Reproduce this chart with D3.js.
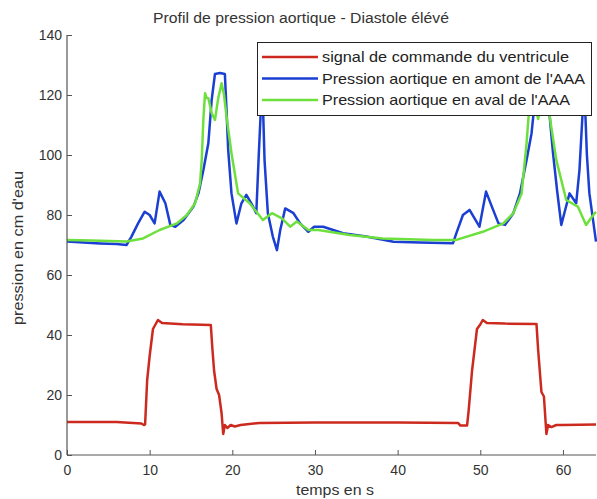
<!DOCTYPE html>
<html><head><meta charset="utf-8">
<script src="https://cdn.jsdelivr.net/npm/d3@7"></script>
<style>body{margin:0;background:#fff;} svg{display:block;font-family:"Liberation Sans",Arial,sans-serif;}</style>
</head><body>
<svg id="c" width="597" height="499"></svg>
<script>
const title = "Profil de pression aortique - Diastole élévé";
const xLabel = "temps en s";
const yLabel = "pression en cm d'eau";
const seriesNames = ["signal de commande du ventricule","Pression aortique en amont de l'AAA","Pression aortique en aval de l'AAA"];
const seriesColors = ["#cc2a1e","#1a3fd2","#6ee03e"];
const xTicks = [0,10,20,30,40,50,60];
const yTicks = [0,20,40,60,80,100,120,140];

const redT = [0,3,6,9,9.3,9.45,9.7,10.0,10.4,11.0,11.5,14,17.4,17.6,17.8,18.1,18.4,18.7,18.9,19.1,19.4,19.8,20.3,21,23.3,30,40,47.3,47.6,48.4,48.6,49.0,49.6,50.0,50.3,50.8,53,56.8,57.0,57.4,57.7,58.0,58.2,58.6,59.2,60,64];
const redV = [11,11,11,10.5,10,10.2,25,33,42,45,44,43.6,43.3,35,28,22,20,14,7,10,9,10,9.5,10,10.7,10.8,10.8,10.7,9.8,9.8,15,28,42,43.5,45,44,43.8,43.7,35,21,19.5,7,10,9.3,10,10,10.2];

const blueT = [0,2,4,6,7.2,7.8,8.6,9.4,10,10.6,11.2,11.9,12.5,13.1,14.1,15.3,15.9,16.5,17.1,17.5,17.9,18.5,19.1,19.3,19.5,19.9,20.5,21.1,21.7,22.3,22.9,23.2,23.5,23.65,23.9,24.3,24.9,25.4,25.8,26.4,27.4,28.2,29.2,29.9,31,33.4,36.2,39.5,42.7,46.7,47.1,47.9,48.7,49.9,50.7,51.4,52.2,53,54,54.8,55.6,56.2,56.6,57.0,57.6,58.2,58.4,58.8,59.3,59.8,60.3,60.8,61.6,62.0,62.4,62.6,62.9,63.2,64];
const blueV = [71.2,70.8,70.5,70.3,70,72.8,77.2,81.1,80,77.2,87.8,83.9,76.7,76.1,78.3,82.8,87.2,95,103.9,118.3,127,127.3,127,115,101.7,87.2,77.2,83.9,86.7,83.9,80.6,100,118,122,98.3,80.6,72.8,68.3,75,82.2,80.6,77.2,74.4,76.1,76.1,73.9,72.8,71.1,70.8,70.6,73.9,80,81.7,76.1,87.8,82.8,77.2,76.7,80.6,87.2,98.3,107.2,118,127,127.3,120,112.8,100.6,88,76.7,82,87.2,83.9,95,115,122,100,87.2,71.1];

const greenT = [0,3,7.2,9.2,11.2,13.3,14.5,15.5,16.1,16.3,16.5,16.7,16.9,17.1,17.5,17.9,18.3,18.7,19.0,19.3,19.9,20.7,22.1,23.7,24.8,26,27,27.8,29.2,30.4,34.2,38.2,44.3,47.1,50.3,52.8,54,55,55.6,55.9,56.1,56.5,57,57.4,57.8,58.2,58.4,59.2,60.4,61.8,62.8,63.4,64];
const greenV = [71.7,71.5,71.2,72.2,75,77.2,80,83.9,90.6,98.3,112,120.6,119,118.9,114,111.7,119,123.9,120,112.8,100.6,87.2,83.9,78.3,80.6,78.9,76.1,77.8,75,75,73.3,72.2,71.7,71.7,74.4,77.2,80.6,87.2,103.9,115,120,118,112,118,121,116,112.8,98.3,85,82.8,76.7,79,81.1];

const svg = d3.select("#c");
const L = 67, R = 596, T = 35, B = 455;
const x = d3.scaleLinear().domain([0,64]).range([L,R]);
const y = d3.scaleLinear().domain([0,140]).range([B,T]);

svg.append("defs").append("clipPath").attr("id","clip")
  .append("rect").attr("x",L).attr("y",T-2).attr("width",R-L+2).attr("height",B-T+2);

const line = d3.line().x(d=>x(d[0])).y(d=>y(d[1]));
const data = [
  d3.zip(redT, redV),
  d3.zip(blueT, blueV),
  d3.zip(greenT, greenV)
];
const g = svg.append("g").attr("clip-path","url(#clip)");
data.forEach((d,i)=>{
  g.append("path").datum(d).attr("d",line)
    .attr("fill","none").attr("stroke",seriesColors[i])
    .attr("stroke-width",2.5).attr("stroke-linejoin","round");
});

// axes
const axCol = "#555";
const xAxis = svg.append("g").attr("transform",`translate(0,${B})`)
  .call(d3.axisBottom(x).tickValues(xTicks).tickSize(-5).tickPadding(10).tickFormat(d3.format("d")));
const yAxis = svg.append("g").attr("transform",`translate(${L},0)`)
  .call(d3.axisLeft(y).tickValues(yTicks).tickSize(-5).tickPadding(5).tickFormat(d3.format("d")));
[xAxis,yAxis].forEach(a=>{
  a.select(".domain").attr("stroke",axCol).attr("stroke-width",1.2);
  a.selectAll(".tick line").attr("stroke",axCol);
  a.selectAll("text").attr("fill","#333").style("font-size","14px").style("font-family","'Liberation Sans',Arial,sans-serif");
});
yAxis.select(".domain").attr("d",`M0,${B}V${T}`);
xAxis.select(".domain").attr("d",`M${L},0H${R}`);

svg.append("text").attr("x",301).attr("y",23).attr("text-anchor","middle")
  .attr("fill","#333").style("font-size","14px")
  .attr("textLength",296).attr("lengthAdjust","spacingAndGlyphs").text(title);
svg.append("text").attr("x",335).attr("y",495).attr("text-anchor","middle")
  .attr("fill","#333").style("font-size","14px")
  .attr("textLength",78).attr("lengthAdjust","spacingAndGlyphs").text(xLabel);
svg.append("text").attr("transform","translate(23,248) rotate(-90)").attr("text-anchor","middle")
  .attr("fill","#333").style("font-size","14px")
  .attr("textLength",154).attr("lengthAdjust","spacingAndGlyphs").text(yLabel);

// legend
const legendLens = [247, 263, 248];
const lg = svg.append("g");
lg.append("rect").attr("x",257.5).attr("y",42.5).attr("width",334).attr("height",73)
  .attr("fill","#fff").attr("stroke","#222").attr("stroke-width",1);
seriesNames.forEach((n,i)=>{
  const yy = 57 + i*21.5;
  lg.append("line").attr("x1",262).attr("x2",318).attr("y1",yy).attr("y2",yy)
    .attr("stroke",seriesColors[i]).attr("stroke-width",2.4);
  lg.append("text").attr("x",322).attr("y",yy+5).attr("fill","#222")
    .style("font-size","15px")
    .attr("textLength",legendLens[i]).attr("lengthAdjust","spacingAndGlyphs").text(n);
});
</script>
</body></html>
